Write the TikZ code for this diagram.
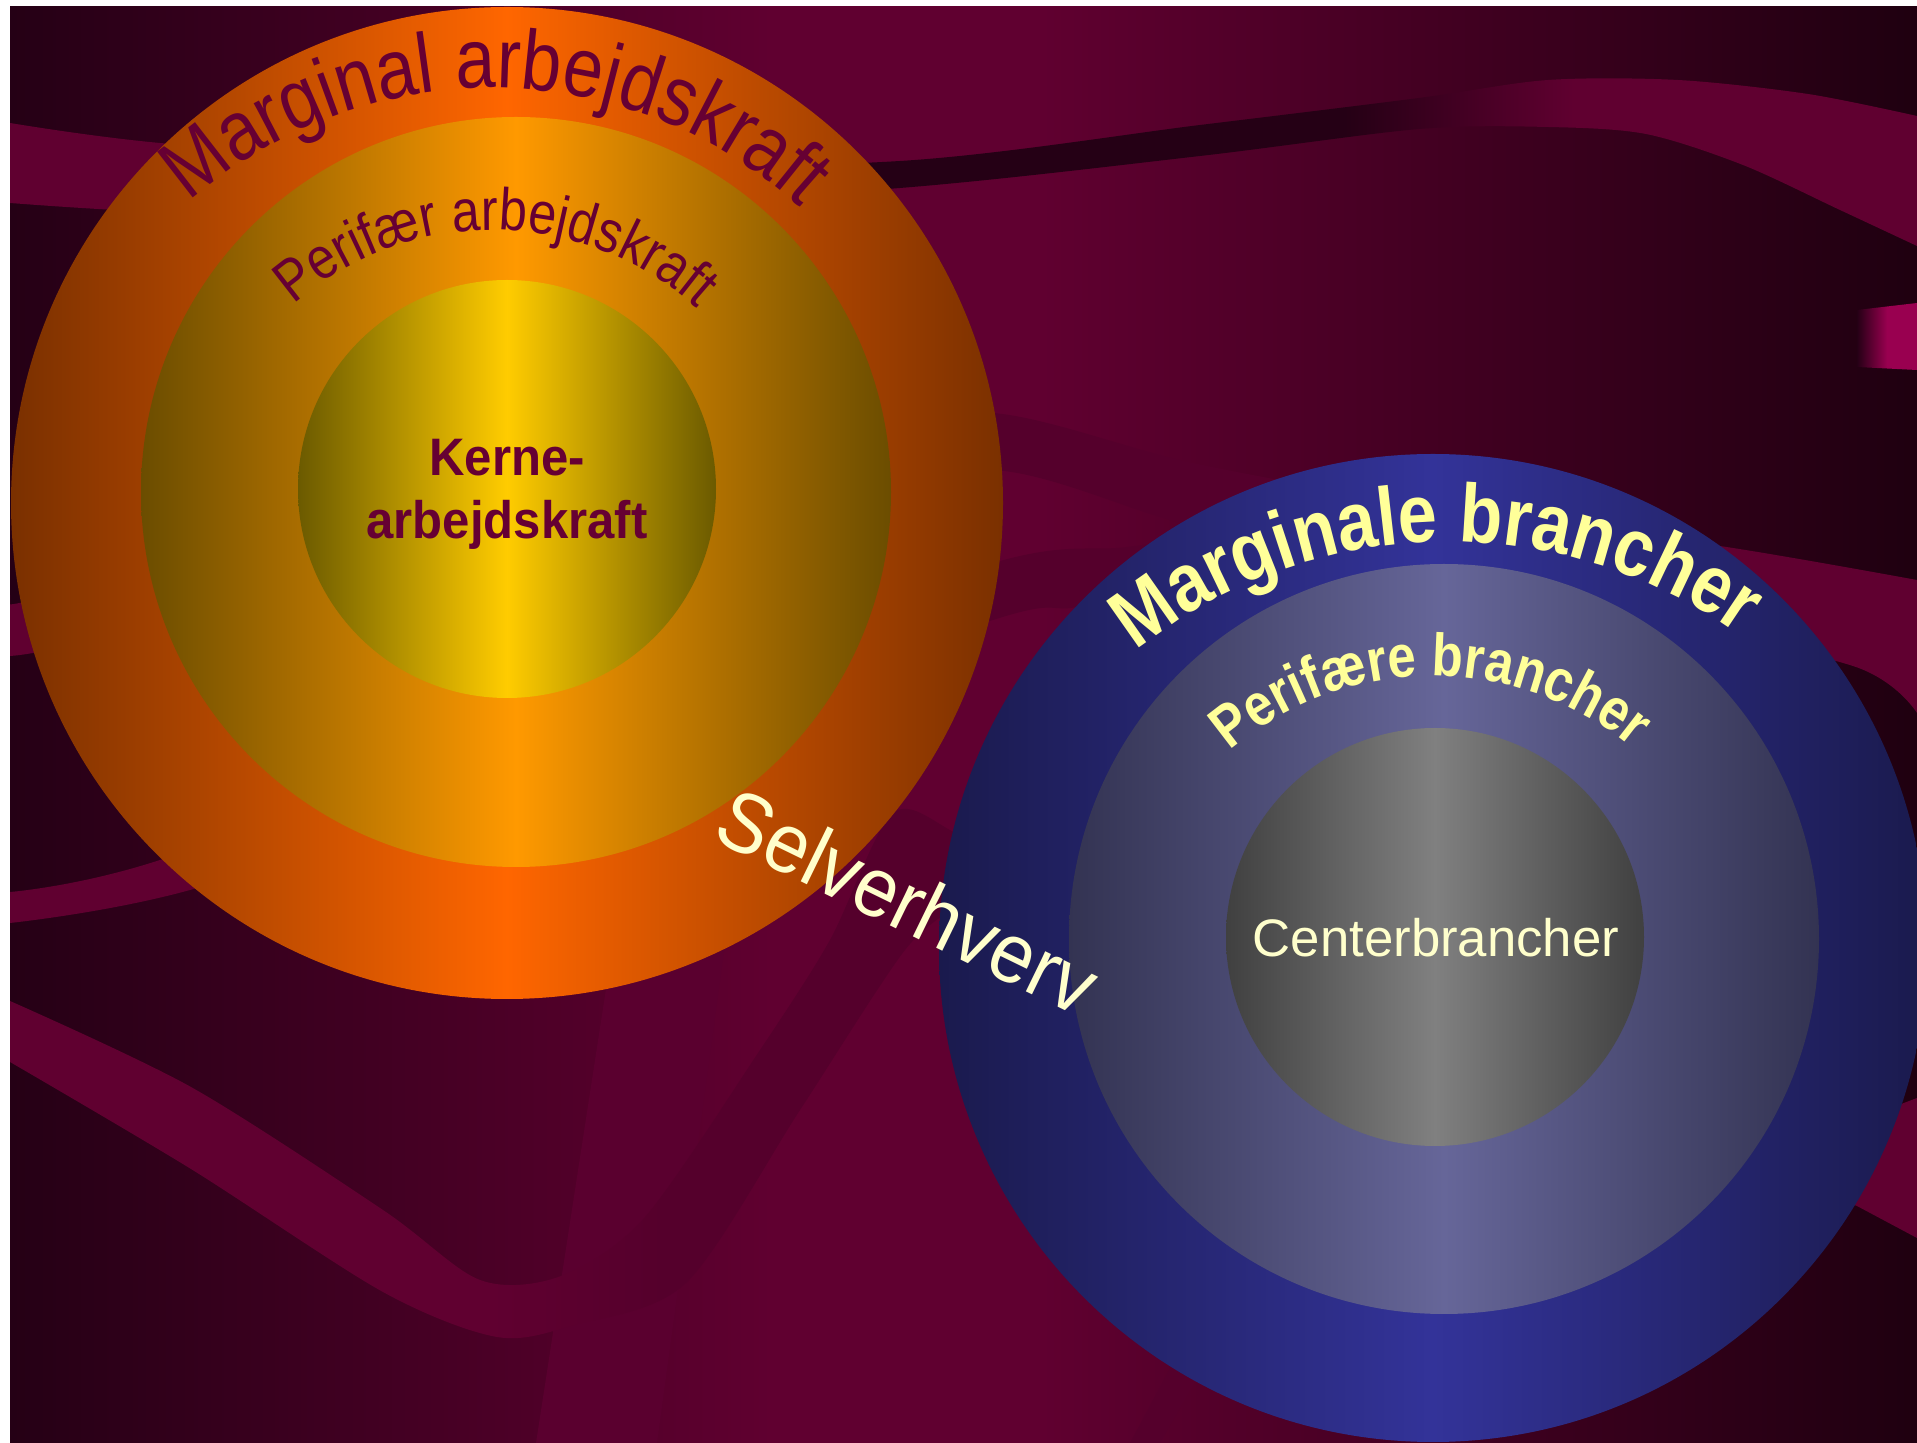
\documentclass[tikz,border=0pt]{standalone}
\usepackage{fontspec}
\setmainfont{Liberation Sans}
\newfontfamily\arcfont[FakeStretch=0.85]{Liberation Sans}
\newfontfamily\selvfont[FakeStretch=0.92]{Liberation Sans}
\newfontfamily\kernefont[FakeStretch=0.93]{Liberation Sans}
\usetikzlibrary{decorations.text}

\definecolor{bgdark}{HTML}{250015}
\definecolor{bglight}{HTML}{600030}
\definecolor{bgend}{HTML}{1F0010}
\definecolor{bandmid}{HTML}{55002C}
\definecolor{bandsoft}{HTML}{5A002F}
\definecolor{pinkband}{HTML}{990050}
\definecolor{maroontext}{HTML}{660033}
\definecolor{paleyellow}{HTML}{FFFF99}
\definecolor{palecream}{HTML}{FFFFCC}
\definecolor{orangeedge}{HTML}{7A3000}
\definecolor{orangemain}{HTML}{FF6600}
\definecolor{amberedge}{HTML}{6B4D00}
\definecolor{ambermain}{HTML}{FF9900}
\definecolor{goldedge}{HTML}{6B5A00}
\definecolor{goldmain}{HTML}{FFCC00}
\definecolor{navyedge}{HTML}{1A1A4D}
\definecolor{navymain}{HTML}{333399}
\definecolor{slateedge}{HTML}{333352}
\definecolor{slatemain}{HTML}{666699}
\definecolor{greyedge}{HTML}{404040}
\definecolor{greymain}{HTML}{808080}

\pgfdeclarehorizontalshading{bgshade}{100bp}{color(0bp)=(bgdark); color(25bp)=(bgdark); color(45bp)=(bglight); color(52bp)=(bglight); color(75bp)=(bgend); color(100bp)=(bgend)}
\pgfdeclarehorizontalshading{ribbontop}{100bp}{color(0bp)=(bglight); color(30bp)=(bglight); color(45bp)=(bgdark); color(60bp)=(bgdark); color(66bp)=(bglight); color(100bp)=(bglight)}
\pgfdeclarehorizontalshading{ribbonmid}{100bp}{color(0bp)=(bglight); color(28bp)=(bglight); color(45bp)=(bandmid); color(62bp)=(bandmid); color(68bp)=(bglight); color(100bp)=(bglight)}
\pgfdeclarehorizontalshading{ribbonlow}{100bp}{color(0bp)=(bglight); color(35bp)=(bglight); color(55bp)=(bandmid); color(100bp)=(bandmid)}
\pgfdeclarehorizontalshading{ribbonbottom}{100bp}{color(0bp)=(bglight); color(47bp)=(bglight); color(55bp)=(bandmid); color(100bp)=(bandmid)}

\begin{document}
\begin{tikzpicture}[x=0.01cm,y=-0.01cm,
  ring/.style 2 args={left color=#1,right color=#1,middle color=#2},
  arctext/.style={decorate,decoration={text along path,text align=center,text={#1}}}]
\useasboundingbox (0,0) rectangle (1917,1443);
\fill[white] (0,0) rectangle (1917,1443);
\begin{scope}
\clip (10,7) rectangle (1917,1443);
\shade[shading=bgshade] (10,7) rectangle (1917,1443);
\fill[bandsoft] (612,950) -- (536,1443) -- (657,1443) -- (727,930) -- cycle;
\shade[shading=ribbontop] plot[smooth] coordinates {(10,123) (160,143) (500,168) (900,161) (1200,125) (1419,98) (1548,80) (1678,80) (1808,94) (1917,116)}
  -- plot[smooth] coordinates {(1917,246) (1840,210) (1743,165) (1646,134) (1548,127) (1419,129) (1200,156) (900,188) (500,212) (190,213) (10,203)} -- cycle;
\shade[shading=ribbonmid] plot[smooth] coordinates {(10,595) (33,600) (400,500) (800,430) (993,413) (1193,463) (1450,510) (1720,546) (1917,580)}
  -- plot[smooth] coordinates {(1917,713) (1853,666) (1600,610) (1300,560) (1160,517) (993,470) (800,500) (400,580) (33,653) (10,647)} -- cycle;
\shade[shading=ribbonlow] plot[smooth] coordinates {(10,892) (160,860) (600,700) (993,563) (1127,547) (1250,530)}
  -- plot[smooth] coordinates {(1200,580) (1077,607) (993,620) (600,760) (190,890) (10,923)} -- cycle;
\shade[shading=ribbonbottom] plot[smooth] coordinates {(10,1001) (191,1087) (383,1210) (480,1280) (561,1276) (645,1217) (760,1050) (830,940) (893,813) (960,835) (1060,880)}
  -- (1100,960) -- plot[smooth] coordinates {(960,905) (905,950) (800,1110) (686,1283) (574,1325) (497,1337) (383,1292) (191,1169) (10,1062)} -- cycle;
\fill[bglight] (1780,1150) -- (1917,1098) -- (1917,1238) -- (1857,1206) -- (1780,1180) -- cycle;
\fill[bandmid] (1130,1443) -- (1260,1200) -- (1300,1200) -- (1160,1443) -- cycle;
\shade[left color=bgdark,right color=pinkband,middle color=pinkband] (1857,310) -- (1917,303) -- (1917,370) -- (1857,367) -- cycle;

\coordinate (lab1) at (507,503);
\coordinate (lab2) at (516,492);
\coordinate (lab3) at (507,489);
\coordinate (br1) at (1433,948);
\coordinate (br2) at (1444,939);
\coordinate (br3) at (1435,937);
\shade[ring={orangeedge}{orangemain}] (lab1) circle (496);
\shade[ring={amberedge}{ambermain}] (lab2) circle (375);
\shade[ring={goldedge}{goldmain}] (lab3) circle (209);
\shade[ring={navyedge}{navymain}] (br1) circle (494);
\shade[ring={slateedge}{slatemain}] (br2) circle (375);
\shade[ring={greyedge}{greymain}] (br3) circle (209);
\end{scope}

\coordinate (lab1t) at (492,545);
\coordinate (lab2t) at (493,534);
\coordinate (br1t) at (1448,1045);
\coordinate (br2t) at (1433,989);
\path[arctext={|\arcfont\fontsize{24}{28}\selectfont\color{maroontext}|Marginal arbejdskraft}] (lab1t) ++(-179.5:457) arc[start angle=-179.5,end angle=0.5,radius=457];
\path[arctext={|\arcfont\fontsize{16.8}{20}\selectfont\color{maroontext}|Perifær arbejdskraft}] (lab2t) ++(-179.5:304) arc[start angle=-179.5,end angle=0.5,radius=304];
\path[arctext={|\arcfont\fontsize{23.5}{28}\selectfont\bfseries\color{paleyellow}|Marginale brancher}] (br1t) ++(-181.5:503) arc[start angle=-181.5,end angle=-1.5,radius=503];
\path[arctext={|\arcfont\fontsize{17}{20}\selectfont\bfseries\color{paleyellow}|Perifære brancher}] (br2t) ++(-180.5:313) arc[start angle=-180.5,end angle=-0.5,radius=313];

\node[align=center,inner sep=0,text=maroontext,font=\kernefont\bfseries\fontsize{15}{17.9}\selectfont] (kerne) at (507,494) {Kerne-\\arbejdskraft};
\node[anchor=base,inner sep=0,text=palecream,font=\fontsize{15}{18}\selectfont] (center) at (1436,957) {Centerbrancher};
\node[anchor=base,rotate=-26,inner sep=0,text=palecream,font=\selvfont\fontsize{24}{28}\selectfont] (selv) at (895,928) {Selverhverv};
\end{tikzpicture}
\end{document}
